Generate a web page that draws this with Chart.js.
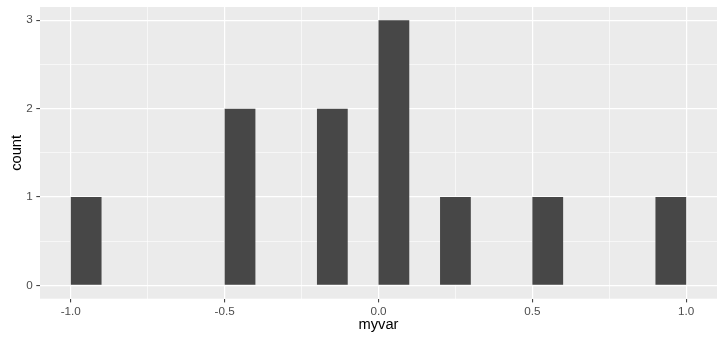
<!DOCTYPE html>
<html>
<head>
<meta charset="utf-8">
<script src="https://cdn.jsdelivr.net/npm/chart.js@4/dist/chart.umd.min.js"></script>
<style>
  html, body { margin: 0; padding: 0; background: #fff; }
  #wrap { width: 724px; height: 341px; }
</style>
</head>
<body>
<div id="wrap"><canvas id="chartCanvas"></canvas></div>
<script>
// --- data (bin left edge, width 0.1) ---
const binStarts = [-1.0, -0.5, -0.2, 0.0, 0.2, 0.5, 0.9];
const counts = [1, 2, 2, 3, 1, 1, 1];
const binWidth = 0.1;

const xTicks = [-1.0, -0.75, -0.5, -0.25, 0.0, 0.25, 0.5, 0.75, 1.0];
const xLabels = [-1.0, -0.5, 0.0, 0.5, 1.0];
const yTicks = [0, 0.5, 1, 1.5, 2, 2.5, 3];
const yLabels = [0, 1, 2, 3];

const points = binStarts.map((b, i) => ({ x: b + binWidth / 2, y: counts[i] }));

// grey panel behind the grid (ggplot theme_grey)
const panelBg = {
  id: "panelBg",
  beforeDraw(chart) {
    const { ctx, chartArea: a } = chart;
    ctx.save();
    ctx.fillStyle = "#EBEBEB";
    ctx.fillRect(a.left, a.top, a.right - a.left, a.bottom - a.top);
    ctx.restore();
  }
};

const isMajor = (list, v) => list.some(l => Math.abs(l - v) < 1e-9);
const tickMajor = (list, c) => !!(c && c.tick && isMajor(list, c.tick.value));

const font = { family: "'Liberation Sans', Arial, sans-serif" };

new Chart(document.getElementById("chartCanvas"), {
  type: "bar",
  data: {
    datasets: [{
      data: points,
      backgroundColor: "#474747",
      borderWidth: 0,
      categoryPercentage: 0.5,
      barPercentage: 1.0
    }]
  },
  options: {
    responsive: true,
    maintainAspectRatio: false,
    animation: false,
    layout: { padding: { top: 7, right: 7, left: 0, bottom: 0 } },
    plugins: { legend: { display: false }, tooltip: { enabled: false } },
    scales: {
      x: {
        type: "linear",
        offset: false,
        min: -1.1,
        max: 1.1,
        afterBuildTicks: s => { s.ticks = xTicks.map(v => ({ value: v })); },
        afterFit: s => { s.height = 42.3; s.paddingLeft = 0; s.paddingRight = 0; },
        border: { display: false },
        grid: {
          offset: false,
          color: "#FFFFFF",
          lineWidth: c => tickMajor(xLabels, c) ? 1.2 : 0.6,
          tickColor: c => tickMajor(xLabels, c) ? "#333333" : "rgba(0,0,0,0)",
          tickLength: 3.7,
          tickWidth: 1
        },
        ticks: {
          autoSkip: false,
          maxRotation: 0,
          padding: 2.5,
          color: "#4D4D4D",
          font: { ...font, size: 11.7 },
          callback: v => isMajor(xLabels, v) ? v.toFixed(1) : ""
        },
        title: {
          display: true,
          text: "myvar",
          color: "#000000",
          font: { ...font, size: 14.7 },
          padding: { top: 0, bottom: 7.4 }
        }
      },
      y: {
        type: "linear",
        min: -0.15,
        max: 3.15,
        afterBuildTicks: s => { s.ticks = yTicks.map(v => ({ value: v })); },
        afterFit: s => { s.width = 40; s.paddingTop = 0; s.paddingBottom = 0; },
        border: { display: false },
        grid: {
          color: "#FFFFFF",
          lineWidth: c => tickMajor(yLabels, c) ? 1.2 : 0.6,
          tickColor: c => tickMajor(yLabels, c) ? "#333333" : "rgba(0,0,0,0)",
          tickLength: 3.7,
          tickWidth: 1
        },
        ticks: {
          autoSkip: false,
          padding: 3.5,
          color: "#4D4D4D",
          font: { ...font, size: 11.7 },
          callback: v => isMajor(yLabels, v) ? String(v) : ""
        },
        title: {
          display: true,
          text: "count",
          color: "#000000",
          font: { ...font, size: 14.7 },
          padding: { top: 8, bottom: 0 }
        }
      }
    }
  },
  plugins: [panelBg]
});
</script>
</body>
</html>
